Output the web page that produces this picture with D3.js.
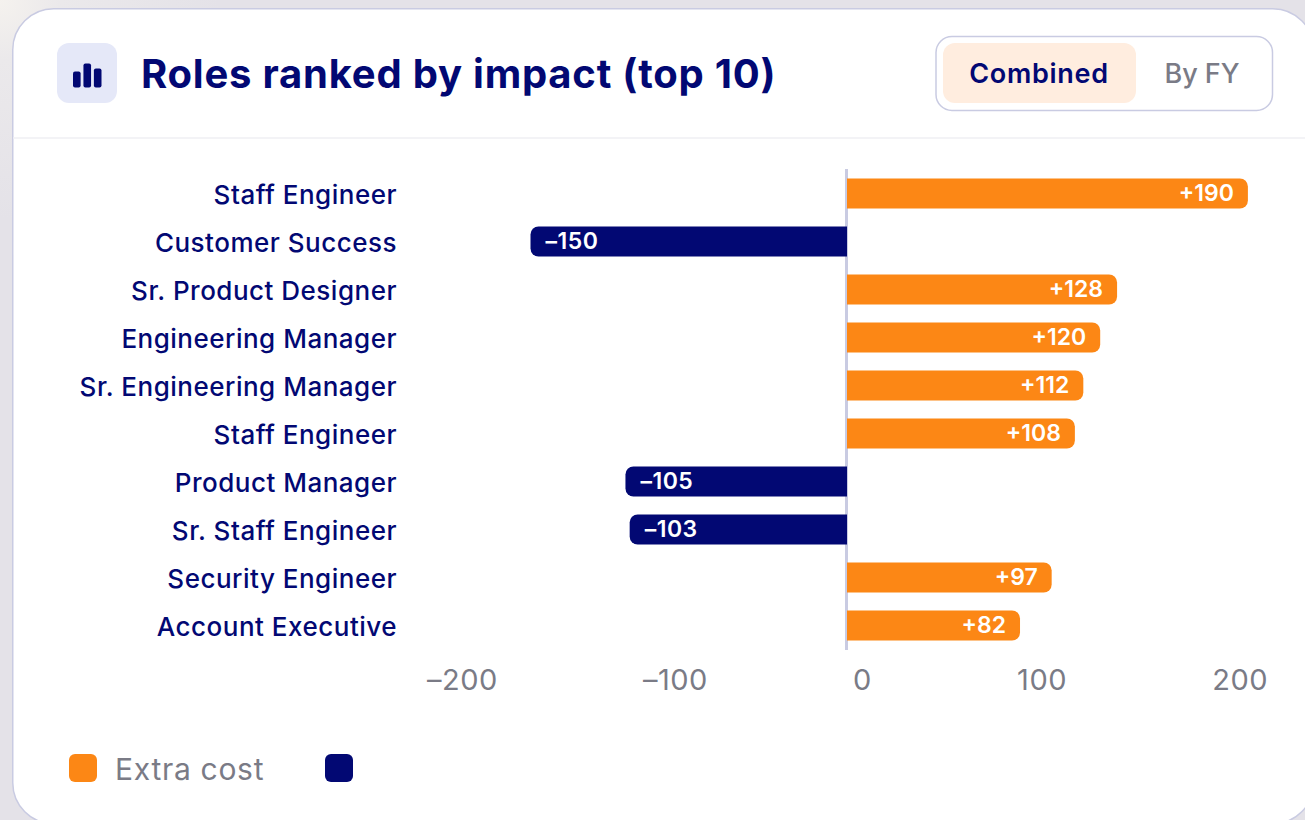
<!DOCTYPE html>
<html><head><meta charset="utf-8">
<script src="https://cdn.jsdelivr.net/npm/d3@7/dist/d3.min.js"></script>
<style>
html,body{margin:0;padding:0;width:1305px;height:820px;overflow:hidden;}
body{background:radial-gradient(circle at 0 0,#f5f2ee 0,#ebe9eb 60px,#e4e2e8 220px);}
svg{position:absolute;left:0;top:0;}
text{font-family:Inter,"Noto Sans",sans-serif;}
</style></head><body>
<svg id="c" width="1305" height="820"></svg>
<script>
const roles=["Staff Engineer","Customer Success","Sr. Product Designer","Engineering Manager","Sr. Engineering Manager","Staff Engineer","Product Manager","Sr. Staff Engineer","Security Engineer","Account Executive"];
const impact=[190,-150,128,120,112,108,-105,-103,97,82];
const tickLabels=["–200","–100","0","100","200"];
const legendLabels=["Extra cost",""];
const title="Roles ranked by impact (top 10)";
const toggles=["Combined","By FY"];
const ORANGE="#fc8715",NAVY="#020873",GREY="#7a7b86",LINE="#c9cbe2";

const svg=d3.select("#c");
svg.append("rect").attr("x",12.75).attr("y",8.75).attr("width",1301).attr("height",815).attr("rx",41).attr("fill","#fff").attr("stroke",LINE).attr("stroke-width",1.5);
svg.append("rect").attr("x",13.5).attr("y",137).attr("width",1291.5).attr("height",2).attr("fill","#f3f3f6");
svg.append("rect").attr("x",57).attr("y",43).attr("width",60).attr("height",60).attr("rx",12).attr("fill","#e5e8f8");
const iconH=[16,24,19];
const ix=d3.scaleBand().domain([0,1,2]).range([73,101.5]).paddingInner(.27);
svg.selectAll(".ic").data(iconH).join("rect").attr("x",(d,i)=>ix(i)).attr("width",ix.bandwidth()).attr("y",d=>87.5-d).attr("height",d=>d).attr("rx",2).attr("fill",NAVY);
svg.append("text").attr("x",141).attr("y",88).attr("font-size",40).attr("font-weight",650).attr("fill",NAVY).attr("letter-spacing",.78).text(title);
svg.append("rect").attr("x",936).attr("y",36.5).attr("width",336.5).attr("height",74).attr("rx",16).attr("fill","#fff").attr("stroke",LINE).attr("stroke-width",1.5);
svg.append("rect").attr("x",943).attr("y",43).attr("width",193).attr("height",60).attr("rx",12).attr("fill","#ffeddf");
svg.append("text").attr("x",1039).attr("y",83).attr("text-anchor","middle").attr("font-size",27).attr("font-weight",600).attr("letter-spacing",.7).attr("fill",NAVY).text(toggles[0]);
svg.append("text").attr("x",1202).attr("y",83).attr("text-anchor","middle").attr("font-size",27).attr("font-weight",500).attr("fill",GREY).text(toggles[1]);

const x=d3.scaleLinear().domain([-200,200]).range([425,1269]);
const y=d3.scaleBand().domain(d3.range(roles.length)).range([170,650]).paddingInner(.375).paddingOuter(.1875);
const r=8;
function barPath(v,i){
  const x0=x(0),x1=x(v),t=y(i)-.5,h=y.bandwidth(),s=v>=0?1:-1,sw=v>=0?1:0;
  return `M${x0},${t}H${x1-s*r}A${r},${r} 0 0 ${sw} ${x1},${t+r}V${t+h-r}A${r},${r} 0 0 ${sw} ${x1-s*r},${t+h}H${x0}Z`;
}
svg.append("line").attr("x1",x(0)-.5).attr("x2",x(0)-.5).attr("y1",169).attr("y2",650).attr("stroke",LINE).attr("stroke-width",3);
svg.selectAll(".bar").data(impact).join("path").attr("class","bar").attr("d",barPath).attr("fill",d=>d>=0?ORANGE:NAVY);
svg.selectAll(".role").data(roles).join("text").attr("class","role").attr("x",397).attr("y",(d,i)=>y(i)+y.bandwidth()/2+9.6).attr("text-anchor","end").attr("font-size",26).attr("font-weight",450).attr("letter-spacing",.5).attr("fill",NAVY).text(d=>d);
svg.selectAll(".val").data(impact).join("text").attr("class","val")
  .attr("x",d=>d>=0?x(d)-14:x(d)+15).attr("y",(d,i)=>y(i)+y.bandwidth()/2+7)
  .attr("text-anchor",d=>d>=0?"end":"start").attr("font-size",23).attr("font-weight",600).attr("letter-spacing",d=>d>=0?0:.5).attr("fill","#fff")
  .text(d=>(d>=0?"+":"–")+Math.abs(d));
const tickLeft=427,tickRight=1268;
const tt=svg.append("g").selectAll("text").data(tickLabels).join("text").attr("y",690).attr("font-size",29).attr("font-weight",400).attr("letter-spacing",.5).attr("fill",GREY).text(d=>d);
const ws=tt.nodes().map(n=>n.getComputedTextLength());
const free=(tickRight-tickLeft)-d3.sum(ws);
tt.attr("x",(d,i)=>tickLeft+d3.sum(ws.slice(0,i))+i*free/(tickLabels.length-1));
svg.append("rect").attr("x",69).attr("y",754).attr("width",28).attr("height",28).attr("rx",6).attr("fill",ORANGE);
svg.append("text").attr("x",115).attr("y",780).attr("font-size",30).attr("letter-spacing",.7).attr("fill",GREY).text(legendLabels[0]);
svg.append("rect").attr("x",325).attr("y",754).attr("width",28).attr("height",28).attr("rx",6).attr("fill",NAVY);
</script></body></html>
